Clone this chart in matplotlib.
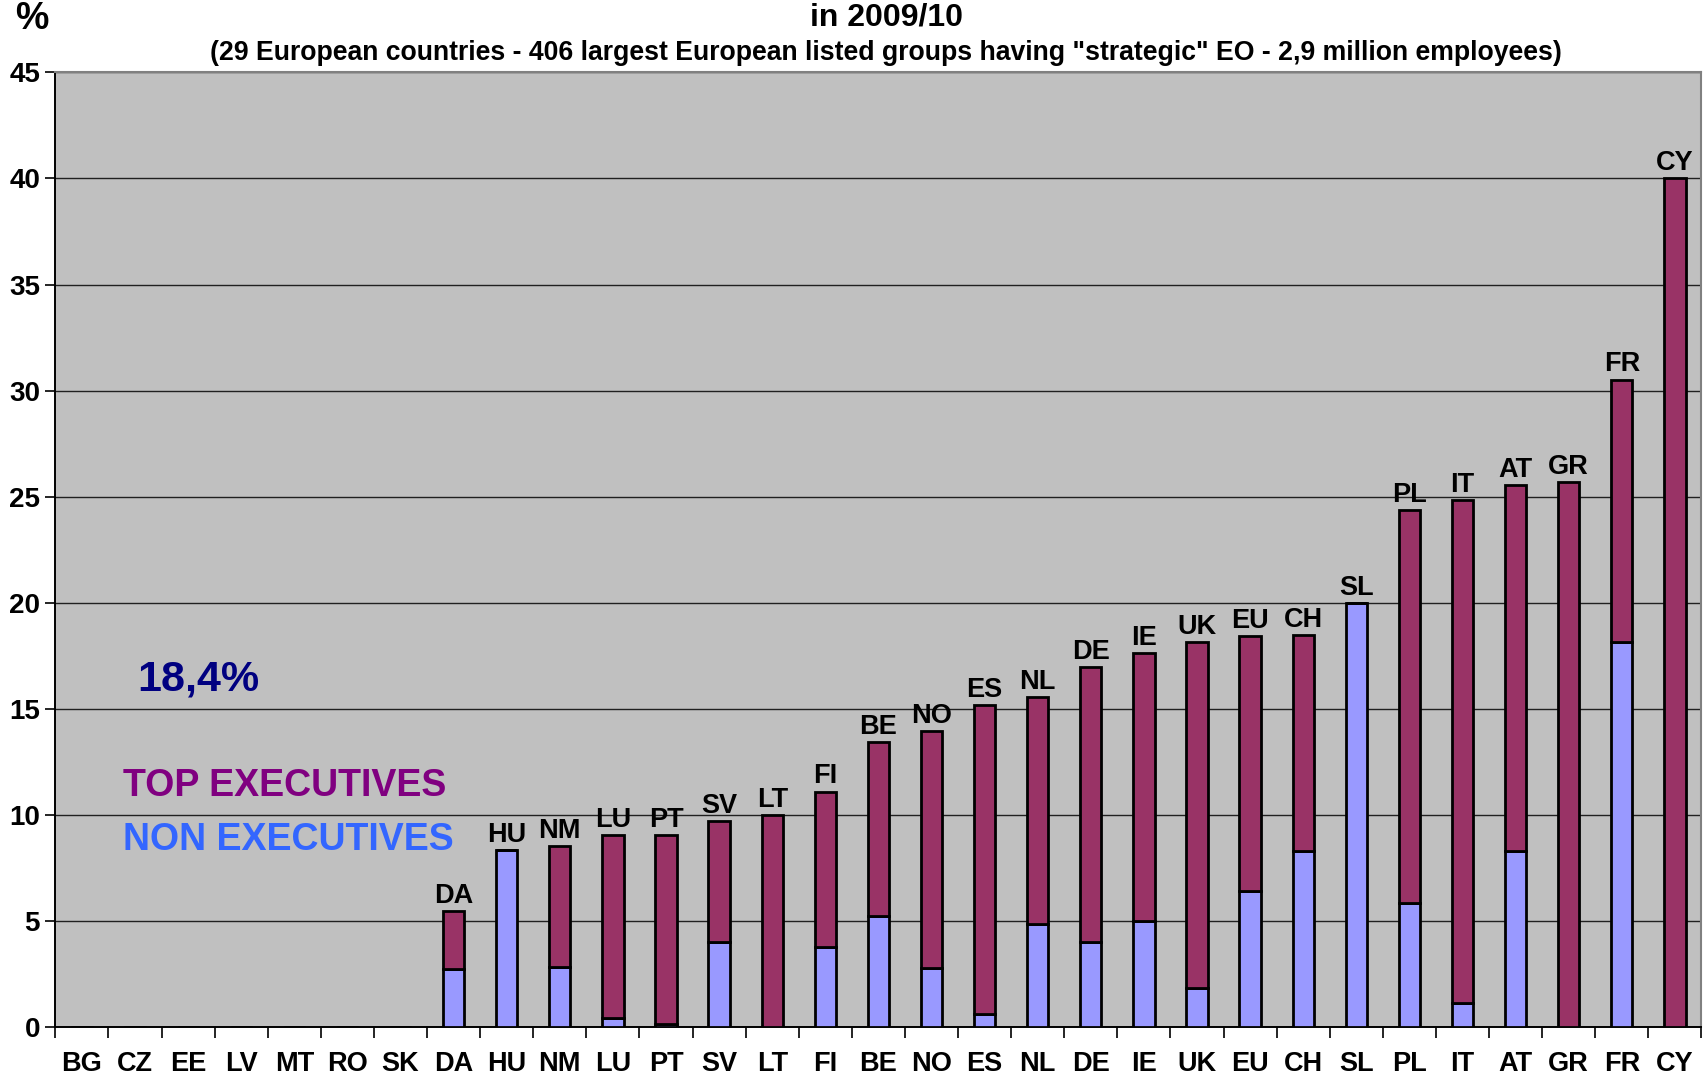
import numpy as np
from matplotlib import pyplot as plt

countries = ['BG', 'CZ', 'EE', 'LV', 'MT', 'RO', 'SK', 'DA', 'HU', 'NM', 'LU', 'PT', 'SV', 'LT', 'FI', 'BE',
             'NO', 'ES', 'NL', 'DE', 'IE', 'UK', 'EU', 'CH', 'SL', 'PL', 'IT', 'AT', 'GR', 'FR', 'CY']
non_exec = [0, 0, 0, 0, 0, 0, 0, 2.75, 8.33, 2.83, 0.44, 0.13, 4.03, 0, 3.77, 5.24,
            2.77, 0.63, 4.87, 4.03, 5.0, 1.84, 6.4, 8.3, 20.0, 5.86, 1.15, 8.3, 0, 18.16, 0]
top_exec = [0, 0, 0, 0, 0, 0, 0, 2.71, 0, 5.69, 8.63, 8.94, 5.66, 9.98, 7.33, 8.19,
            11.19, 14.57, 10.7, 12.94, 12.64, 16.32, 12.03, 10.17, 0, 18.52, 23.68, 17.27, 25.7, 12.36, 40.0]
y_ticks = [0, 5, 10, 15, 20, 25, 30, 35, 40, 45]

title = 'in 2009/10'
subtitle = '(29 European countries - 406 largest European listed groups having "strategic" EO - 2,9 million employees)'
average_label = '18,4%'

plt.rcParams['font.family'] = ['Liberation Sans', 'DejaVu Sans']
plt.rcParams['font.weight'] = 'bold'

fig = plt.figure(figsize=(17.04, 10.8), dpi=100)
ax = fig.add_axes([0.0325, 0.049, 0.966, 0.884])
ax.set_facecolor('#C0C0C0')

x = np.arange(len(countries))
ax.bar(x, non_exec, width=0.4, color='#9999FF', edgecolor='black', linewidth=2, zorder=3)
tops = ax.bar(x, top_exec, width=0.4, bottom=non_exec, color='#993366', edgecolor='black', linewidth=2, zorder=3)

labels = [c if (n + t) > 0 else '' for c, n, t in zip(countries, non_exec, top_exec)]
ax.bar_label(tops, labels=labels, padding=1.5, fontsize=19.5, fontweight='bold', zorder=4)

ax.set_xlim(-0.5, len(countries) - 0.5)
ax.set_ylim(0, 45)
ax.set_yticks(y_ticks)
ax.set_xticks(x)
ax.set_xticklabels(countries)
ax.set_xticks(np.arange(len(countries) + 1) - 0.5, minor=True)
ax.tick_params(axis='x', which='major', length=0, pad=17, labelsize=19.5)
ax.tick_params(axis='x', which='minor', length=8, width=1.2, direction='out')
ax.tick_params(axis='y', length=7, width=1.2, direction='out', labelsize=20, pad=4)
for lab in ax.get_xticklabels() + ax.get_yticklabels():
    lab.set_fontweight('bold')

ax.grid(axis='y', color='#202020', linewidth=1.0, zorder=1)
ax.set_axisbelow(True)
ax.spines['left'].set_linewidth(1.4)
ax.spines['bottom'].set_linewidth(1.4)
ax.spines['top'].set_color('#808080')
ax.spines['right'].set_color('#808080')
ax.spines['top'].set_linewidth(1.5)
ax.spines['right'].set_linewidth(1.5)

ax.text(1.05, 16.4, average_label, fontsize=31, fontweight='bold', color='#000080', va='center', ha='left')
ax.text(0.77, 11.36, 'TOP EXECUTIVES', fontsize=27, fontweight='bold', color='#800080', va='center', ha='left')
ax.text(0.77, 8.81, 'NON EXECUTIVES', fontsize=27, fontweight='bold', color='#3366FF', va='center', ha='left')

fig.text(0.009, 0.982, '%', fontsize=27, fontweight='bold', va='center', ha='left')
fig.text(0.52, 0.984, title, fontsize=23, fontweight='bold', va='center', ha='center')
fig.text(0.52, 0.951, subtitle, fontsize=19.2, fontweight='bold', va='center', ha='center')

fig.savefig('out.png', dpi=100)
